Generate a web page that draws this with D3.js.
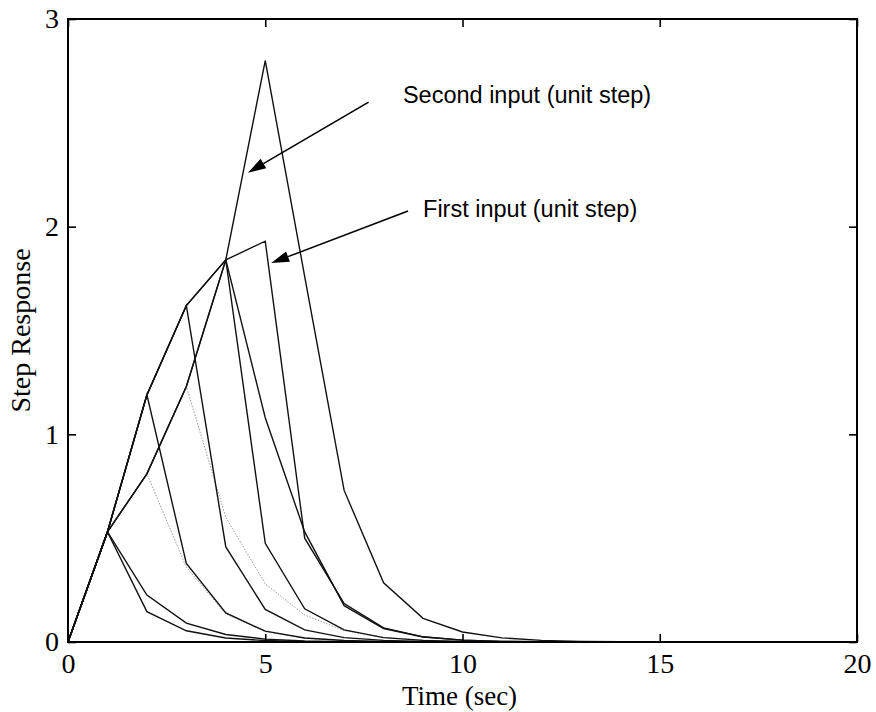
<!DOCTYPE html>
<html>
<head>
<meta charset="utf-8">
<script src="https://cdn.jsdelivr.net/npm/d3@7"></script>
<style>
body { margin: 0; background: #fff; }
svg { display: block; }
</style>
</head>
<body>
<div id="chart"></div>
<script>
const W = 876, H = 712;
const margin = {top: 19, right: 19, bottom: 70, left: 68};
const width = W - margin.left - margin.right;
const height = H - margin.top - margin.bottom;

// sample times and ticks
const timeSec = [0, 1, 2, 3, 4, 5, 6, 7, 8, 9, 10, 11, 12, 13, 14, 15, 16, 17, 18, 19];
const xTicks = [0, 5, 10, 15, 20];
const yTicks = [0, 1, 2, 3];

// responses (solid black)
const first1a = [0, .53, .146, .054, .019, .007, .002, .001, 0, 0, 0, 0, 0, 0, 0, 0, 0, 0, 0, 0];
const first1b = [0, .53, .226, .091, .036, .014, .005, .002, .001, 0, 0, 0, 0, 0, 0, 0, 0, 0, 0, 0];
const first2 = [0, .53, 1.19, .378, .14, .052, .019, .007, .003, .001, 0, 0, 0, 0, 0, 0, 0, 0, 0, 0];
const first3 = [0, .53, 1.19, 1.62, .458, .157, .058, .021, .008, .003, .001, 0, 0, 0, 0, 0, 0, 0, 0, 0];
const first4 = [0, .53, 1.19, 1.62, 1.84, .475, .16, .058, .021, .008, .003, .001, 0, 0, 0, 0, 0, 0, 0, 0];
const first5 = [0, .53, 1.19, 1.62, 1.84, 1.93, .50, .185, .068, .025, .009, .003, .001, 0, 0, 0, 0, 0, 0, 0];
const second4 = [0, .53, .81, 1.23, 1.84, 1.08, .53, .175, .065, .024, .009, .003, .001, 0, 0, 0, 0, 0, 0, 0];
const second5 = [0, .53, .81, 1.23, 1.84, 2.80, 1.76, .73, .285, .114, .048, .02, .008, .003, .001, 0, 0, 0, 0, 0];
// light dotted ones
const second2 = [0, .53, .81, .36, .135, .05, .019, .007, .003, .001, 0, 0, 0, 0, 0, 0, 0, 0, 0, 0];
const second3 = [0, .53, .81, 1.23, .60, .28, .13, .055, .022, .009, .003, .001, 0, 0, 0, 0, 0, 0, 0, 0];

const solidSeries = [first1a, first1b, first2, first3, first4, first5, second4, second5];
const dottedSeries = [second2, second3];

// annotations, in data units: [tailX, tailY, tipX, tipY]
const notes = [
    {label: "Second input (unit step)", tx: 8.49, ty: 2.595, arrow: [7.62, 2.60, 4.56, 2.26]},
    {label: "First input (unit step)", tx: 9.0, ty: 2.046, arrow: [8.62, 2.075, 5.15, 1.825]}
];

var xScale = d3.scaleLinear().domain([0, 20]).range([0, width]);
var yScale = d3.scaleLinear().domain([0, 3]).range([height, 0]);

var svg = d3.select("#chart").append("svg")
    .attr("width", W)
    .attr("height", H)
    .style("background", "#fff")
    .append("g")
    .attr("transform", "translate(" + margin.left + "," + margin.top + ")");

var line = d3.line()
    .x(function(d, i) { return xScale(timeSec[i]); })
    .y(function(d) { return yScale(d); });

svg.selectAll(".dotted").data(dottedSeries).enter().append("path")
    .attr("class", "dotted")
    .attr("d", line)
    .attr("fill", "none")
    .attr("stroke", "#9a9a9a")
    .attr("stroke-width", 1)
    .attr("stroke-dasharray", "1.5,1.5");

svg.selectAll(".resp").data(solidSeries).enter().append("path")
    .attr("class", "resp")
    .attr("d", line)
    .attr("fill", "none")
    .attr("stroke", "#111")
    .attr("stroke-width", 1.4)
    .attr("stroke-linejoin", "miter");

// axes, ticks inward like matlab
var tickFont = "Liberation Serif, Times New Roman, serif";

var xAxis = d3.axisBottom(xScale).tickValues(xTicks).tickSize(-8).tickPadding(11).tickFormat(d3.format("d"));
var yAxis = d3.axisLeft(yScale).tickValues(yTicks).tickSize(-8).tickPadding(9).tickFormat(d3.format("d"));
var xTop = d3.axisTop(xScale).tickValues(xTicks).tickSize(-8).tickFormat("");
var yRight = d3.axisRight(yScale).tickValues(yTicks).tickSize(-8).tickFormat("");

var gx = svg.append("g").attr("transform", "translate(0," + height + ")").call(xAxis);
var gy = svg.append("g").call(yAxis);
var gt = svg.append("g").call(xTop);
var gr = svg.append("g").attr("transform", "translate(" + width + ",0)").call(yRight);

[gx, gy, gt, gr].forEach(function(g) {
    g.select(".domain").remove();
    g.selectAll(".tick line").attr("stroke", "#000").attr("stroke-width", 1.6);
    g.selectAll("text")
        .attr("fill", "#000")
        .style("font-family", tickFont)
        .style("font-size", "28px");
});

svg.append("rect")
    .attr("x", 0).attr("y", 0)
    .attr("width", width).attr("height", height)
    .attr("fill", "none")
    .attr("stroke", "#000")
    .attr("stroke-width", 2);

// axis labels
svg.append("text")
    .attr("x", xScale(10) - 3)
    .attr("y", height + 63)
    .attr("text-anchor", "middle")
    .style("font-family", tickFont)
    .style("font-size", "27px")
    .text("Time (sec)");

svg.append("text")
    .attr("transform", "translate(" + (-38) + "," + (height / 2) + ") rotate(-90)")
    .attr("text-anchor", "middle")
    .style("font-family", tickFont)
    .style("font-size", "28px")
    .text("Step Response");

// annotation arrows
var noteG = svg.selectAll(".note").data(notes).enter().append("g").attr("class", "note");

noteG.append("text")
    .attr("x", function(d) { return xScale(d.tx); })
    .attr("y", function(d) { return yScale(d.ty); })
    .style("font-family", "Liberation Sans, Arial, Helvetica, sans-serif")
    .style("font-size", "23.5px")
    .attr("fill", "#000")
    .text(function(d) { return d.label; });

noteG.each(function(d) {
    var x1 = xScale(d.arrow[0]), y1 = yScale(d.arrow[1]);
    var x2 = xScale(d.arrow[2]), y2 = yScale(d.arrow[3]);
    var ang = Math.atan2(y2 - y1, x2 - x1);
    var len = 18, half = 5.5;
    var bx = x2 - len * Math.cos(ang), by = y2 - len * Math.sin(ang);
    var g = d3.select(this);
    g.append("line")
        .attr("x1", x1).attr("y1", y1)
        .attr("x2", bx).attr("y2", by)
        .attr("stroke", "#000")
        .attr("stroke-width", 1.6);
    g.append("polygon")
        .attr("points", [
            [x2, y2],
            [bx + half * Math.sin(ang), by - half * Math.cos(ang)],
            [bx - half * Math.sin(ang), by + half * Math.cos(ang)]
        ].map(function(p) { return p.join(","); }).join(" "))
        .attr("fill", "#000");
});
</script>
</body>
</html>
